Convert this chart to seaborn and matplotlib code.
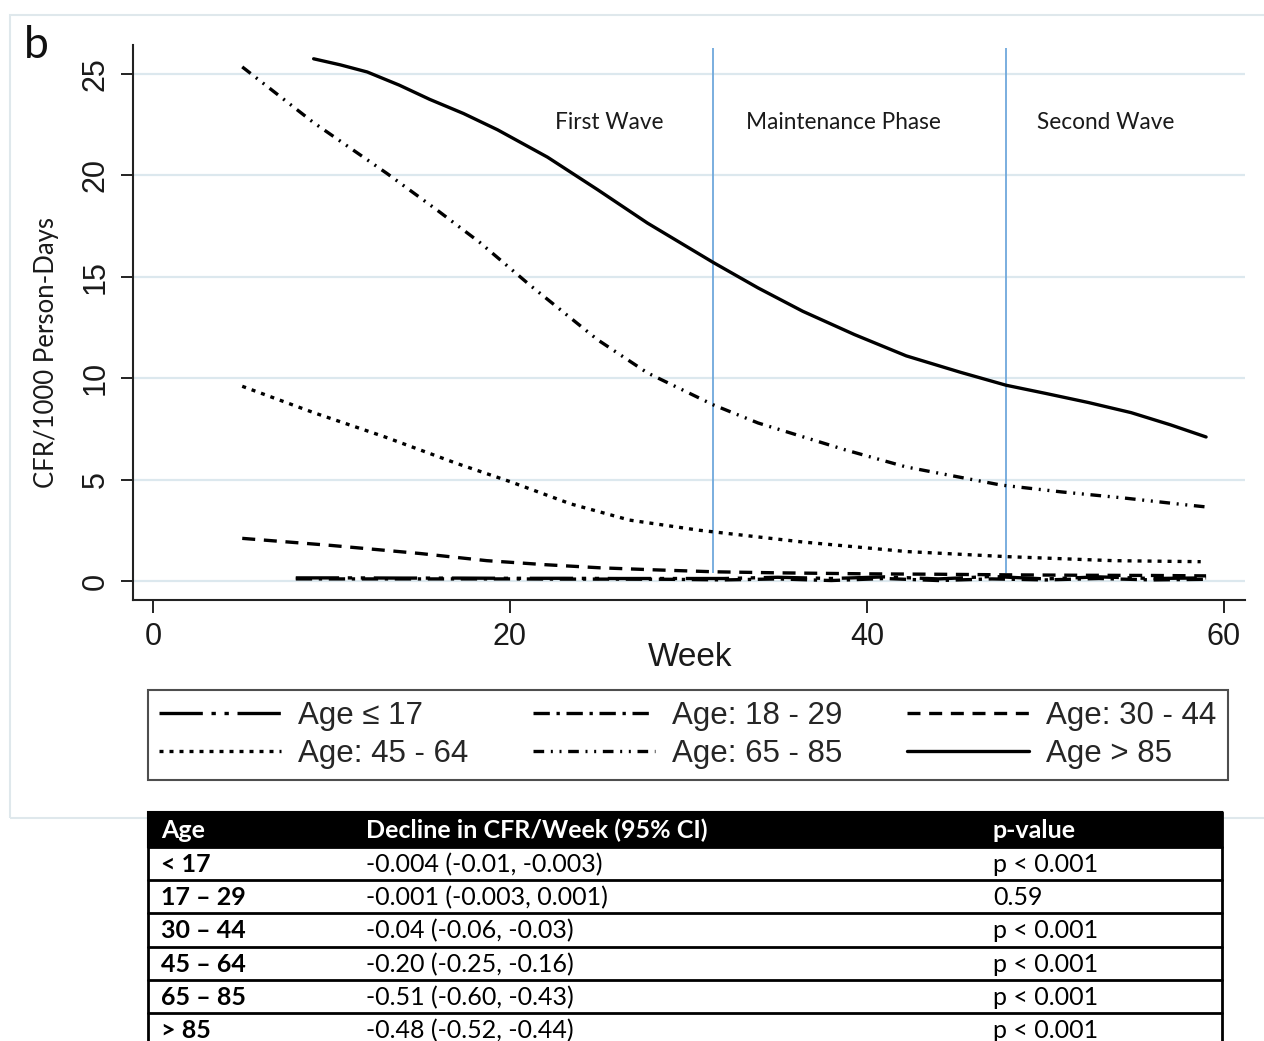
import matplotlib
matplotlib.use("Agg")
import matplotlib.pyplot as plt
import seaborn as sns
import pandas as pd
from matplotlib.patches import Rectangle
from matplotlib.lines import Line2D

# ---------------- data ----------------
series_labels = ["Age \u2264 17", "Age: 18 - 29", "Age: 30 - 44",
                 "Age: 45 - 64", "Age: 65 - 85", "Age > 85"]

weeks_le17 = [8, 11, 14, 17, 20, 23, 26, 29, 32, 35, 38, 41, 44, 47, 50, 53, 56, 59]
cfr_le17 = [0.15, 0.15, 0.14, 0.14, 0.13, 0.13, 0.12, 0.12, 0.12, 0.18, 0.12, 0.2, 0.1, 0.22, 0.1, 0.2, 0.12, 0.15]

weeks_18_29 = [8, 11, 14, 17, 20, 23, 26, 29, 32, 35, 38, 41, 44, 47, 50, 53, 56, 59]
cfr_18_29 = [0.1, 0.1, 0.1, 0.1, 0.1, 0.09, 0.09, 0.08, 0.05, 0.1, 0.02, 0.12, 0.02, 0.1, 0.05, 0.12, 0.05, 0.08]

weeks_30_44 = [5, 10, 15, 18.7, 22, 25, 28, 31.5, 35, 40, 44, 48, 52, 56, 59]
cfr_30_44 = [2.1, 1.75, 1.35, 1.0, 0.8, 0.65, 0.55, 0.45, 0.4, 0.35, 0.33, 0.3, 0.28, 0.27, 0.25]

weeks_45_64 = [5, 9, 13, 17, 20, 23.4, 26.7, 30.6, 36.4, 42.2, 47.8, 53.8, 58.7]
cfr_45_64 = [9.6, 8.3, 7.1, 5.8, 4.9, 3.8, 3.0, 2.5, 1.92, 1.45, 1.2, 1.0, 0.95]

weeks_65_85 = [5.0, 9.0, 13.1, 15.9, 18.3, 21.1, 24.9, 27.7, 31.4, 33.9, 38.8, 42.2, 47.5, 50.9, 54.4, 57.9, 59.0]
cfr_65_85 = [25.35, 22.6, 20.1, 18.3, 16.7, 14.6, 11.9, 10.26, 8.68, 7.79, 6.46, 5.62, 4.73, 4.39, 4.09, 3.75, 3.65]

weeks_gt85 = [9, 10.5, 12, 13.8, 15.5, 17.4, 19.3, 22.1, 24.9, 27.7, 31.4, 33.9, 36.4, 39.3, 42.2, 45.2, 47.8, 50.0, 52.4, 54.8, 57, 59]
cfr_gt85 = [25.75, 25.45, 25.1, 24.45, 23.75, 23.05, 22.25, 20.9, 19.3, 17.65, 15.7, 14.45, 13.3, 12.15, 11.1, 10.3, 9.65, 9.25, 8.8, 8.3, 7.7, 7.1]

phase_bounds = [31.4, 47.8]
phase_names = ["First Wave", "Maintenance Phase", "Second Wave"]
phase_label_x = [25.55, 38.66, 53.4]

x_ticks = [0, 20, 40, 60]
y_ticks = [0, 5, 10, 15, 20, 25]

table_header = ["Age", "Decline in CFR/Week (95% CI)", "p-value"]
table_age = ["< 17", "17 \u2013 29", "30 \u2013 44", "45 \u2013 64", "65 \u2013 85", "> 85"]
table_decline = ["-0.004 (-0.01, -0.003)", "-0.001 (-0.003, 0.001)", "-0.04 (-0.06, -0.03)",
                 "-0.20 (-0.25, -0.16)", "-0.51 (-0.60, -0.43)", "-0.48 (-0.52, -0.44)"]
table_p = ["p < 0.001", "0.59", "p < 0.001", "p < 0.001", "p < 0.001", "p < 0.001"]

# ---------------- styles ----------------
sns.set_style("white")
plt.rcParams["font.family"] = ["Liberation Sans", "DejaVu Sans"]

dash_styles = [
    (0, (13, 2.6, 1.3, 2.6, 1.3, 2.6)),
    (0, (4.9, 2.0, 1.0, 2.0)),
    (0, (3.9, 2.6)),
    (0, (1.2, 1.8)),
    (0, (3.2, 2.0, 0.6, 2.0, 0.6, 2.0)),
    "-",
]

W, H = 1264, 1041
fig = plt.figure(figsize=(W / 100, H / 100), dpi=100)

def fx(px):
    return px / W

def fy(py):
    return 1 - py / H

# outer light frame
fig.patches.append(Rectangle((fx(10), fy(818)), fx(1300 - 10), (818 - 15) / H,
                             transform=fig.transFigure, fill=False,
                             ec="#dfe8ec", lw=1.5))

ax = fig.add_axes([fx(133), fy(600), (1245 - 133) / W, (600 - 45) / H])

all_weeks = [weeks_le17, weeks_18_29, weeks_30_44, weeks_45_64, weeks_65_85, weeks_gt85]
all_cfr = [cfr_le17, cfr_18_29, cfr_30_44, cfr_45_64, cfr_65_85, cfr_gt85]

handles = []
for lab, wk, cf, ls in zip(series_labels, all_weeks, all_cfr, dash_styles):
    df = pd.DataFrame({"Week": wk, "CFR": cf})
    sns.lineplot(data=df, x="Week", y="CFR", ax=ax, color="black", lw=2.4,
                 estimator=None, linestyle=ls, legend=False)
    handles.append(Line2D([], [], color="black", lw=2.4, linestyle=ls, label=lab))

ax.set_xlim(-1.12, 61.18)
ax.set_ylim(-0.94, 26.43)
ax.set_xticks(x_ticks)
ax.set_yticks(y_ticks)
ax.set_xlabel("")
ax.set_ylabel("")

for yv in y_ticks:
    ax.axhline(yv, color="#dce8ee", lw=1.6, zorder=0)

ax.vlines(phase_bounds, 0.4, 26.28, color="#6fa8dc", lw=1.3, zorder=1)

for name, xv in zip(phase_names, phase_label_x):
    ax.text(xv, 22.63, name, ha="center", va="center", fontsize=16.3,
            family=["Lato", "DejaVu Sans"], color="#1a1a1a")

for s in ["top", "right"]:
    ax.spines[s].set_visible(False)
for s in ["left", "bottom"]:
    ax.spines[s].set_color("#222222")
    ax.spines[s].set_linewidth(1.5)

ax.tick_params(axis="both", direction="out", length=9, width=1.4, color="#222222",
               labelsize=22, pad=7, left=True, bottom=True, labelcolor="#1a1a1a")
ax.tick_params(axis="y", labelrotation=90)
for lbl in ax.get_yticklabels():
    lbl.set_va("center")

fig.text(fx(47), fy(353), "CFR/1000 Person-Days", rotation=90, ha="center", va="center",
         fontsize=18.5, family=["Lato", "DejaVu Sans"], color="#1a1a1a")
fig.text(fx(690), fy(658), "Week", ha="center", va="center", fontsize=24, color="#1a1a1a")
fig.text(fx(36), fy(46), "b", ha="center", va="center", fontsize=32,
         family=["Lato", "DejaVu Sans"], color="#111111")

order = [0, 3, 1, 4, 2, 5]
leg = fig.legend([handles[i] for i in order], [series_labels[i] for i in order],
                 loc="upper left",
                 bbox_to_anchor=(fx(148), fy(690), (1228 - 148) / W, 0.0),
                 mode="expand", ncol=3, fontsize=22.5, handlelength=3.9,
                 handletextpad=0.55, labelspacing=0.25, borderpad=0.36,
                 borderaxespad=0.0,
                 columnspacing=1.0, frameon=True, fancybox=False)
leg.get_frame().set_edgecolor("#222222")
leg.get_frame().set_linewidth(1.5)

# ---------------- table ----------------
tx0, tx1 = 148, 1222
row_edges = [812, 847, 880, 913, 947, 980, 1013, 1046]
fig.patches.append(Rectangle((fx(tx0), fy(row_edges[1])), fx(tx1 - tx0),
                             (row_edges[1] - row_edges[0]) / H,
                             transform=fig.transFigure, fc="black", ec="black", lw=1.5))
for r in row_edges[1:]:
    fig.add_artist(Line2D([fx(tx0), fx(tx1)], [fy(r), fy(r)], color="black", lw=2,
                          transform=fig.transFigure))
for xv in [tx0, tx1]:
    fig.add_artist(Line2D([fx(xv), fx(xv)], [fy(row_edges[0]), fy(row_edges[-1])],
                          color="black", lw=2, transform=fig.transFigure))

col_x = [161, 366, 993]
tfam = ["Lato", "DejaVu Sans"]
tsize = 18
hy = (row_edges[0] + row_edges[1]) / 2
for cx, t in zip(col_x, table_header):
    fig.text(fx(cx), fy(hy + 1), t, ha="left", va="center", fontsize=tsize,
             fontweight="bold", color="white", family=tfam)
for i in range(len(table_age)):
    cy = (row_edges[i + 1] + row_edges[i + 2]) / 2 + 1
    fig.text(fx(col_x[0]), fy(cy), table_age[i], ha="left", va="center",
             fontsize=tsize, fontweight="bold", color="black", family=tfam)
    fig.text(fx(col_x[1]), fy(cy), table_decline[i], ha="left", va="center",
             fontsize=tsize, color="black", family=tfam)
    fig.text(fx(col_x[2]), fy(cy), table_p[i], ha="left", va="center",
             fontsize=tsize, color="black", family=tfam)

fig.savefig("out.png", dpi=100)
